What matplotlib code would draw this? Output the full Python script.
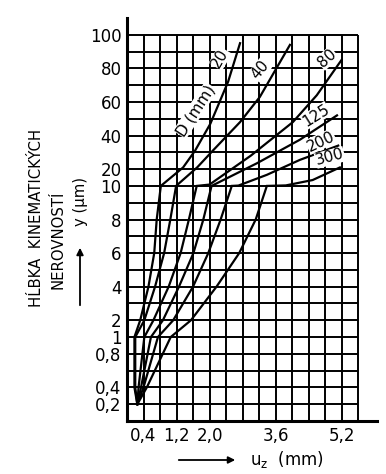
import numpy as np
import matplotlib.pyplot as plt

# piecewise scale of the y axis: value -> grid row
scale_vals = [-1000, 0, 1, 10, 100, 1000]
scale_rows = [-5000, 0, 5, 14, 23, 113]

def fwd(v):
    return np.interp(v, scale_vals, scale_rows)

def inv(g):
    return np.interp(g, scale_rows, scale_vals)

# data
x_ticks = [0.4, 1.2, 2.0, 3.6, 5.2]
x_ticklabels = ["0,4", "1,2", "2,0", "3,6", "5,2"]
y_ticks = [0.2, 0.4, 0.8, 1, 2, 4, 6, 8, 10, 20, 40, 60, 80, 100]
y_ticklabels = ["0,2", "0,4", "0,8", "1", "2", "4", "6", "8", "10", "20", "40", "60", "80", "100"]
grid_x = [0.4 * k for k in range(1, 15)]
grid_y = [0.2, 0.4, 0.6, 0.8, 1, 2, 3, 4, 5, 6, 7, 8, 9, 10,
          20, 30, 40, 50, 60, 70, 80, 90, 100]

d_labels = ["20", "40", "80", "125", "200", "300"]

x_d20 = [0.25, 0.18, 0.18, 0.32, 0.52, 0.66, 0.72, 0.82, 1.36, 1.65, 2.02, 2.45, 2.74]
y_d20 = [0.2, 0.4, 1.0, 2, 4, 6, 8, 10, 21, 31, 47, 72, 95]

x_d40 = [0.25, 0.2, 0.2, 0.42, 0.68, 0.9, 1.05, 1.19, 1.70, 2.08, 2.74, 3.22, 3.95]
y_d40 = [0.2, 0.4, 1.0, 2, 4, 6, 8, 10, 21, 31, 48, 63, 94]

x_d80 = [0.25, 0.28, 0.42, 0.64, 1.01, 1.3, 1.5, 1.69, 2.0, 3.0, 4.02, 4.6, 5.2]
y_d80 = [0.2, 0.4, 1.0, 2, 4, 6, 8, 10, 10.8, 28, 48, 64, 85]

x_d125 = [0.25, 0.34, 0.58, 0.87, 1.26, 1.61, 1.85, 2.05, 3.15, 4.19, 5.09]
y_d125 = [0.2, 0.4, 1.0, 2, 4, 6, 8, 10, 23.5, 37.5, 52]

x_d200 = [0.25, 0.4, 0.75, 1.12, 1.6, 1.97, 2.27, 2.54, 2.7, 3.39, 4.19, 5.12]
y_d200 = [0.2, 0.4, 1.0, 2, 4, 6, 8, 10, 10.2, 16.6, 25.5, 34]

x_d300 = [0.25, 0.48, 1.06, 1.55, 2.17, 2.72, 3.12, 3.39, 3.85, 4.5, 5.16]
y_d300 = [0.2, 0.4, 1.0, 2, 4, 6, 8, 10, 10.3, 13.5, 21]

curves = [(x_d20, y_d20), (x_d40, y_d40), (x_d80, y_d80),
          (x_d125, y_d125), (x_d200, y_d200), (x_d300, y_d300)]

# label spots (x mm, y um, rotation)
lab_pos = [(2.26, 86, 60), (3.22, 79, 50), (4.85, 86, 42),
           (4.58, 52, 32), (4.70, 36.5, 25), (4.92, 27, 15)]

fig = plt.figure(figsize=(3.86, 4.74), dpi=100)
ax = fig.add_axes([127 / 386, 53 / 474, 250 / 386, 403 / 474])
ax.set_yscale('function', functions=(fwd, inv))
ax.set_xlim(0, 6.06)
ax.set_ylim(0, 110)

ax.hlines(grid_y, 0, 5.6, colors='black', lw=1.4)
ax.vlines(grid_x, 0, 100, colors='black', lw=1.4)

for xs, ys in curves:
    ax.plot(xs, ys, color='black', lw=1.6, solid_joinstyle='miter')

for txt, (lx, ly, rot) in zip(d_labels, lab_pos):
    ax.text(lx, ly, txt, rotation=rot, fontsize=11, ha='center', va='center',
            rotation_mode='anchor',
            bbox=dict(facecolor='white', edgecolor='none', pad=0.2))
ax.text(1.66, 55, "D (mm)", rotation=57, fontsize=11, ha='center', va='center',
        rotation_mode='anchor',
        bbox=dict(facecolor='white', edgecolor='none', pad=0.2))

ax.set_xticks(x_ticks)
ax.set_xticklabels(x_ticklabels)
ax.set_yticks(y_ticks)
ax.set_yticklabels(y_ticklabels)
ax.tick_params(length=0, labelsize=12, pad=4)
ax.minorticks_off()

for s in ['top', 'right']:
    ax.spines[s].set_visible(False)
for s in ['left', 'bottom']:
    ax.spines[s].set_linewidth(2.2)

# axis captions
fig.text(37 / 386, 1 - 218 / 474, "HĹBKA  KINEMATICKÝCH", rotation=90,
         fontsize=10.7, ha='center', va='center')
fig.text(58 / 386, 1 - 240 / 474, "NEROVNOSTÍ", rotation=90,
         fontsize=10.7, ha='center', va='center')
fig.text(80 / 386, 1 - 201 / 474, "y (μm)", rotation=90,
         fontsize=10.7, ha='center', va='center')
ax.annotate('', xy=(80, 474 - 245), xytext=(80, 474 - 308), xycoords='figure pixels',
            textcoords='figure pixels',
            arrowprops=dict(arrowstyle='-|>', color='black', lw=1.3, mutation_scale=10))

fig.text(250 / 386, 1 - 460 / 474, r"$\mathregular{u_z}$  (mm)", fontsize=12,
         ha='left', va='center')
ax.annotate('', xy=(238, 474 - 460), xytext=(176, 474 - 460), xycoords='figure pixels',
            textcoords='figure pixels',
            arrowprops=dict(arrowstyle='-|>', color='black', lw=1.3, mutation_scale=10))

fig.savefig("out.png", dpi=100)
